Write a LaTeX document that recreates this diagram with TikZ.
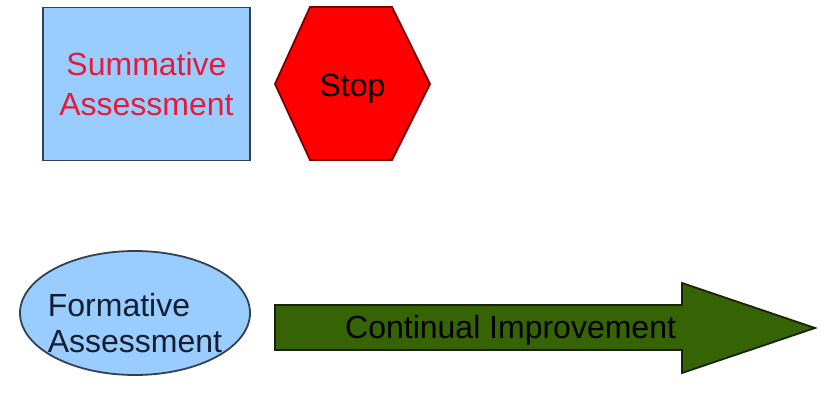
\documentclass[tikz,border=0pt]{standalone}
\usepackage{fontspec}
\setmainfont{Liberation Sans}
\usetikzlibrary{shapes.geometric}
\definecolor{paleblue}{RGB}{153,204,255}
\definecolor{slateline}{RGB}{50,64,82}
\definecolor{stopred}{RGB}{255,0,0}
\definecolor{stopline}{RGB}{120,0,0}
\definecolor{textred}{RGB}{228,28,58}
\definecolor{leafgreen}{RGB}{54,100,4}
\definecolor{darkline}{RGB}{22,34,10}
\definecolor{navytext}{RGB}{20,30,48}
\begin{document}
\begin{tikzpicture}[x=1pt, y=-1pt,
  lbl/.style={inner sep=0pt, font=\fontsize{32}{40}\selectfont},
  box/.style={draw=slateline, line width=1.8pt, fill=paleblue, minimum width=207pt, minimum height=153pt, align=center, text=textred, lbl},
  oval/.style={ellipse, draw=slateline, line width=1.8pt, fill=paleblue, minimum width=230pt, minimum height=124pt},
  hexa/.style={draw=stopline, line width=1.8pt, fill=stopred, line join=miter},
  bigarrow/.style={draw=darkline, line width=1.8pt, fill=leafgreen, line join=miter}
]
\useasboundingbox (0,0) rectangle (825,404);
% top row
\node[box] (summative) at (146.5,84) {Summative\\Assessment};
\filldraw[hexa] (275,84) -- (310,7) -- (392,7) -- (430,84) -- (392,160) -- (310,160) -- cycle;
\node[lbl, anchor=base] (stop) at (352.5,96) {Stop};
% bottom row
\node[oval] (formative) at (135,313) {};
\node[lbl, align=left, text=navytext, font=\fontsize{32}{36}\selectfont] (formtext) at ([yshift=-10pt]formative.center) {Formative\\Assessment};
\filldraw[bigarrow] (275,305) -- (682,305) -- (682,283) -- (815,328) -- (682,373) -- (682,350) -- (275,350) -- cycle;
\node[lbl, anchor=base west] (improve) at (345,338) {Continual Improvement};
\end{tikzpicture}
\end{document}
